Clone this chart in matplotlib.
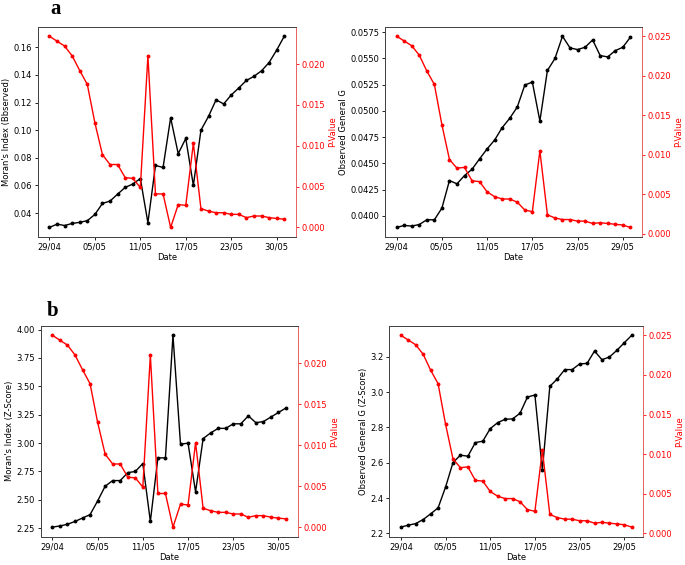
import numpy as np
import matplotlib
matplotlib.use("Agg")
import matplotlib.pyplot as plt

# ---- data ----
moran_obs = [0.0296, 0.032, 0.031, 0.0325, 0.0333, 0.0345, 0.039, 0.047, 0.0487, 0.0537,
             0.0586, 0.061, 0.065, 0.033, 0.0745, 0.073, 0.109, 0.083, 0.094, 0.060,
             0.100, 0.110, 0.122, 0.119, 0.1255, 0.1306, 0.136, 0.139, 0.143, 0.149,
             0.158, 0.168]
moran_p = [0.0234, 0.0228, 0.0222, 0.0210, 0.0192, 0.0175, 0.0128, 0.0089, 0.0077, 0.0077,
           0.0061, 0.0060, 0.0049, 0.0210, 0.0041, 0.0041, 0.0000, 0.0028, 0.0027, 0.0103,
           0.0023, 0.0020, 0.0018, 0.0018, 0.0016, 0.0016, 0.0012, 0.0014, 0.0014, 0.0012,
           0.0011, 0.0010]
moran_z = [2.26, 2.27, 2.285, 2.31, 2.34, 2.37, 2.49, 2.62, 2.67, 2.67,
           2.74, 2.75, 2.82, 2.31, 2.87, 2.87, 3.95, 2.99, 3.00, 2.57,
           3.04, 3.09, 3.13, 3.13, 3.17, 3.17, 3.24, 3.18, 3.19, 3.23,
           3.27, 3.31]
g_obs = [0.03889, 0.03908, 0.03902, 0.03917, 0.03962, 0.03962, 0.04073, 0.04336, 0.04305, 0.04384,
         0.04444, 0.04543, 0.04638, 0.04723, 0.04841, 0.04930, 0.05037, 0.05247, 0.05275, 0.04904,
         0.05386, 0.05500, 0.05712, 0.05601, 0.05585, 0.05607, 0.05677, 0.05528, 0.05515, 0.05575,
         0.05607, 0.05702]
g_p = [0.0250, 0.0244, 0.0238, 0.0226, 0.0206, 0.0189, 0.0138, 0.0094, 0.0083, 0.0084,
       0.0067, 0.0066, 0.0053, 0.0047, 0.0044, 0.0044, 0.0040, 0.0030, 0.0028, 0.0105,
       0.0024, 0.0020, 0.0018, 0.0018, 0.0016, 0.0016, 0.0013, 0.0014, 0.0013, 0.0012,
       0.0011, 0.0008]
g_z = [2.236, 2.247, 2.256, 2.279, 2.311, 2.345, 2.462, 2.601, 2.643, 2.637,
       2.714, 2.722, 2.793, 2.827, 2.846, 2.848, 2.880, 2.972, 2.983, 2.558,
       3.032, 3.074, 3.127, 3.127, 3.159, 3.162, 3.232, 3.183, 3.198, 3.236,
       3.279, 3.321]

tick_pos = [0, 6, 12, 18, 24, 30]
ticks_moran = ["29/04", "05/05", "11/05", "17/05", "23/05", "30/05"]
ticks_g = ["29/04", "05/05", "11/05", "17/05", "23/05", "29/05"]

W, H = 685, 565
fig = plt.figure(figsize=(W / 100, H / 100), dpi=100)

def box(l, r, t, b):
    return [l / W, 1 - b / H, (r - l) / W, (b - t) / H]

panels = [
    (box(37.7, 296, 26.7, 237), moran_obs, moran_p, "Moran's Index (Bbserved)", ticks_moran),
    (box(385, 642, 26.7, 237), g_obs, g_p, "Observed General G", ticks_g),
    (box(40.7, 297.7, 325.7, 536.7), moran_z, moran_p, "Moran's Index (Z-Score)", ticks_moran),
    (box(389.3, 643.3, 325.7, 536.7), g_z, g_p, "Observed General G (Z-Score)", ticks_g),
]

fs = 6
for rect, yv, pv, ylab, tlabels in panels:
    ax = fig.add_axes(rect)
    x = np.arange(len(yv))
    ax.plot(x, yv, color="black", lw=1.0, marker="o", ms=1.8)
    ax.set_xticks(tick_pos)
    ax.set_xticklabels(tlabels)
    ax.set_xlabel("Date", fontsize=fs, labelpad=1)
    ax.set_ylabel(ylab, fontsize=fs, labelpad=2)
    ax.tick_params(labelsize=fs, length=2.5, width=0.6, pad=1.5)
    for s in ax.spines.values():
        s.set_linewidth(0.7)
        s.set_color("#444444")
    ax2 = ax.twinx()
    ax2.plot(x, pv, color="red", lw=1.0, marker="o", ms=1.8)
    ax2.set_ylabel("P-Value", fontsize=fs, color="red", labelpad=2)
    ax2.tick_params(axis="y", labelsize=fs, colors="red", length=2.5, width=0.6, pad=1.5)
    for s in ax2.spines.values():
        s.set_linewidth(0.7)
        s.set_color("#444444")
    ax2.spines["right"].set_color("#ee6666")

fig.text(50 / W, 1 - 14 / H, "a", fontsize=15, fontweight="bold", family="Liberation Serif")
fig.text(47 / W, 1 - 316 / H, "b", fontsize=15, fontweight="bold", family="Liberation Serif")

fig.savefig("out.png", dpi=100)
